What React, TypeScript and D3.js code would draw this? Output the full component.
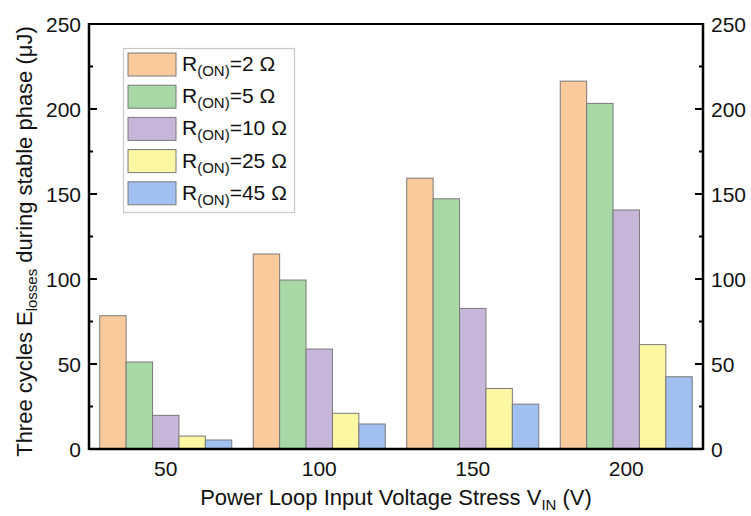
import React from "react";
import * as d3 from "d3";

const categories = ["50", "100", "150", "200"];
const seriesNames = ["2", "5", "10", "25", "45"];
const seriesColors = ["#F8CA9C", "#A7D8A5", "#C6B6D9", "#FBF7A2", "#A2C0EF"];
const r2 = [78.4, 114.7, 159.3, 216.4];
const r5 = [51.2, 99.4, 147.2, 203.3];
const r10 = [19.8, 58.8, 82.7, 140.6];
const r25 = [7.6, 21.0, 35.6, 61.4];
const r45 = [5.3, 14.7, 26.4, 42.5];
const seriesValues = [r2, r5, r10, r25, r45];
const yTicks = [0, 50, 100, 150, 200, 250];
const yMinorTicks = [25, 75, 125, 175, 225];

export default function App() {
  const W = 751, H = 516;
  const left = 89, right = 703, top = 24, bottom = 449;
  const x = d3.scaleBand<string>().domain(categories).range([left, right]).paddingInner(0.14).paddingOuter(0.07);
  const xi = d3.scaleBand<string>().domain(seriesNames).range([0, x.bandwidth()]);
  const y = d3.scaleLinear().domain([0, 250]).range([bottom, top]);
  const font = "'Liberation Sans', Arial, sans-serif";

  return (
    <svg width={W} height={H} style={{ position: "absolute", left: 0, top: 0, background: "#fff" }} fontFamily={font} fill="#111">
      {categories.map((c, ci) =>
        seriesNames.map((s, si) => {
          const v = seriesValues[si][ci];
          return (
            <rect key={c + s} x={(x(c) as number) + (xi(s) as number)} y={y(v)} width={xi.bandwidth()} height={bottom - y(v)}
              fill={seriesColors[si]} stroke="#7a7a7a" strokeWidth={1} />
          );
        })
      )}
      <line x1={left} x2={right} y1={top} y2={top} stroke="#000" strokeWidth={2.2} />
      <line x1={left} x2={right} y1={bottom} y2={bottom} stroke="#000" strokeWidth={2.5} />
      <line x1={left} x2={left} y1={top - 1} y2={bottom + 1} stroke="#000" strokeWidth={2.5} />
      <line x1={right} x2={right} y1={top - 1} y2={bottom + 1} stroke="#000" strokeWidth={2.5} />
      {yTicks.map((t) => (
        <g key={"t" + t}>
          <line x1={left} x2={left + 8} y1={y(t)} y2={y(t)} stroke="#000" strokeWidth={2} />
          <line x1={right} x2={right - 8} y1={y(t)} y2={y(t)} stroke="#000" strokeWidth={2} />
          <text x={left - 8} y={y(t)} dy="0.36em" textAnchor="end" fontSize={21}>{t}</text>
          <text x={right + 8} y={y(t)} dy="0.36em" textAnchor="start" fontSize={21}>{t}</text>
        </g>
      ))}
      {yMinorTicks.map((t) => (
        <g key={"m" + t}>
          <line x1={left} x2={left + 4} y1={y(t)} y2={y(t)} stroke="#000" strokeWidth={2} />
          <line x1={right} x2={right - 4} y1={y(t)} y2={y(t)} stroke="#000" strokeWidth={2} />
        </g>
      ))}
      {categories.map((c) => (
        <text key={"x" + c} x={(x(c) as number) + x.bandwidth() / 2} y={bottom + 27} textAnchor="middle" fontSize={21}>{c}</text>
      ))}
      <text x={(left + right) / 2} y={505} textAnchor="middle" fontSize={22}>
        Power Loop Input Voltage Stress V<tspan fontSize={15} dy={5}>IN</tspan><tspan dy={-5}> (V)</tspan>
      </text>
      <text transform={`translate(32, ${(top + bottom) / 2 + 5}) rotate(-90)`} textAnchor="middle" fontSize={22}>
        Three cycles E<tspan fontSize={15} dy={5}>losses</tspan><tspan dy={-5}> during stable phase (μJ)</tspan>
      </text>
      <rect x={123.5} y={48.5} width={171} height={164} fill="#fff" stroke="#c8c8c8" strokeWidth={1.2} />
      {seriesNames.map((s, i) => {
        const yy = 53 + i * 32.2;
        return (
          <g key={"l" + s}>
            <rect x={128} y={yy} width={48} height={23} fill={seriesColors[i]} stroke="#7a7a7a" strokeWidth={1} />
            <text x={182} y={yy + 18} fontSize={21}>
              R<tspan fontSize={15} dy={5}>(ON)</tspan><tspan dy={-5}>={s} Ω</tspan>
            </text>
          </g>
        );
      })}
    </svg>
  );
}
